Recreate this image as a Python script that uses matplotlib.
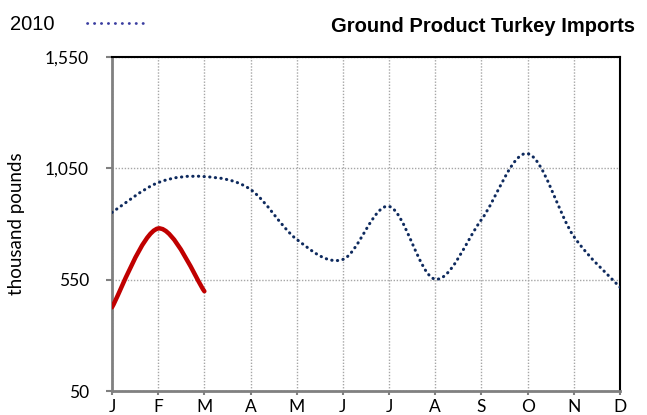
import numpy as np
import matplotlib
matplotlib.use('Agg')
import matplotlib.pyplot as plt
from matplotlib.path import Path
from matplotlib.patches import PathPatch

months = ['J', 'F', 'M', 'A', 'M', 'J', 'J', 'A', 'S', 'O', 'N', 'D']
imports_2010 = [852, 986, 1013, 955, 731, 641, 879, 552, 820, 1116, 744, 516]
imports_2011 = [426, 780, 498]
yticks = [50, 550, 1050, 1550]


def smooth_path(xs, ys):
    # Excel-style smoothed line: cubic bezier through each point
    pts = np.column_stack([xs, ys]).astype(float)
    n = len(pts)
    verts = [pts[0]]
    codes = [Path.MOVETO]
    for i in range(n - 1):
        p0 = pts[i - 1] if i > 0 else pts[i]
        p1 = pts[i]
        p2 = pts[i + 1]
        p3 = pts[i + 2] if i + 2 < n else pts[i + 1]
        c1 = p1 + (p2 - p0) / 6
        c2 = p2 - (p3 - p1) / 6
        verts += [c1, c2, p2]
        codes += [Path.CURVE4] * 3
    return Path(verts, codes)


fig = plt.figure(figsize=(6.47, 4.15), dpi=100)
ax = fig.add_axes([0.1731, 0.0578, 0.7852, 0.8048])
ax.set_xlim(0, 11)
ax.set_ylim(50, 1550)

p = PathPatch(smooth_path(np.arange(len(imports_2010)), imports_2010), fill=False,
              edgecolor='#0E2A5E', linewidth=2.2, linestyle=(0, (0.1, 1.75)),
              capstyle='round', zorder=3)
ax.add_patch(p)
p2 = PathPatch(smooth_path(np.arange(len(imports_2011)), imports_2011), fill=False,
               edgecolor='#C00000', linewidth=3.2, capstyle='round', zorder=4)
ax.add_patch(p2)

ax.set_xticks(range(12))
ax.set_xticklabels(months, fontname='Lato', fontsize=12.5)
ax.set_yticks(yticks)
ax.set_yticklabels([f'{v:,}' for v in yticks], fontname='Lato', fontsize=12.5)
ax.tick_params(axis='both', colors='#808080', width=1.5, labelcolor='black')
ax.tick_params(axis='y', length=4.5, pad=12)
ax.tick_params(axis='x', length=3, pad=3)
ax.grid(True, color='#A6A6A6', linestyle=(0, (1, 1.2)), linewidth=1)

ax.spines['left'].set_color('#808080')
ax.spines['left'].set_linewidth(2)
ax.spines['bottom'].set_color('#808080')
ax.spines['bottom'].set_linewidth(2)
ax.spines['top'].set_color('black')
ax.spines['top'].set_linewidth(1.5)
ax.spines['right'].set_color('black')
ax.spines['right'].set_linewidth(1.5)

ax.set_ylabel('thousand pounds', fontname='Lato', fontsize=13.5)
ax.yaxis.set_label_coords(-0.172, 0.5)

fig.text(0.982, 0.937, 'Ground Product Turkey Imports', ha='right', va='center',
         fontname='Liberation Sans', fontweight='bold', fontsize=14.5)
fig.text(0.015, 0.941, '2010', ha='left', va='center',
         fontname='Liberation Sans', fontsize=14.5)
fig.add_artist(plt.Line2D([0.135, 0.226], [0.945, 0.945], transform=fig.transFigure,
                          color='#3A3DA0', linewidth=2, linestyle=(0, (0.1, 2.4)),
                          dash_capstyle='round'))

fig.savefig('out.png', dpi=100)
